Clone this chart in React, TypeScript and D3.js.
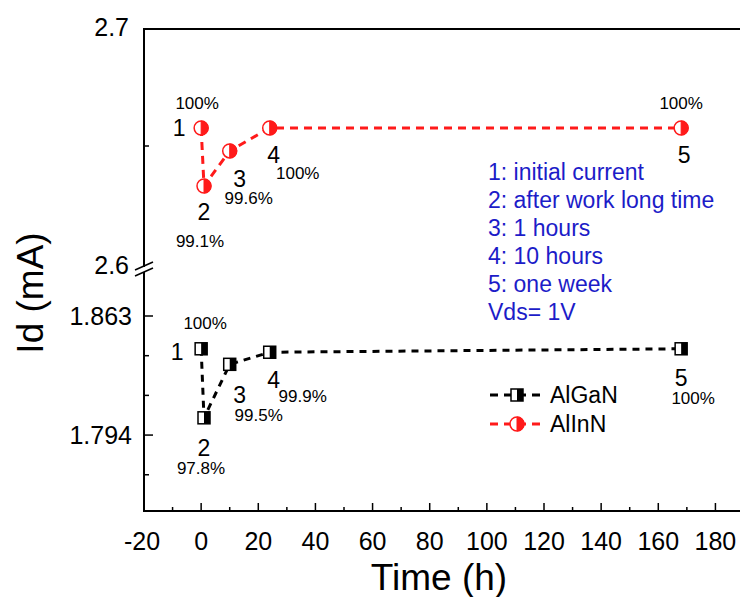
import React, { useEffect } from "react";
import * as d3 from "d3";

const times = [0, 1, 10, 24, 168];
const alganValues = [1.844, 1.804, 1.835, 1.842, 1.844];
const allnnValues = [2.6577, 2.6329, 2.6479, 2.6577, 2.6577];
const pointNumbers = ["1", "2", "3", "4", "5"];
const alganPct = ["100%", "97.8%", "99.5%", "99.9%", "100%"];
const allnnPct = ["100%", "99.1%", "99.6%", "100%", "100%"];
const xTicks = [-20, 0, 20, 40, 60, 80, 100, 120, 140, 160, 180];
const xMinor = [-10, 10, 30, 50, 70, 90, 110, 130, 150, 170];
const upperMajor = [2.7, 2.6];
const upperMinor = [2.65];
const lowerMajor = [1.863, 1.794];
const lowerMinor = [1.84, 1.817, 1.771];
const notes = [
  "1: initial current",
  "2: after work long time",
  "3: 1 hours",
  "4: 10 hours",
  "5: one week",
  "Vds= 1V",
];

// layout offsets for annotations (px relative to point)
const allnnNumOff = [[-22, 0], [0, 26], [10, 28], [4, 27], [3, 27]];
const allnnPctOff = [[-4, -24], [-4, 55], [19, 48], [28, 46], [0, -24]];
const alganNumOff = [[-24, 3], [0, 30], [10, 31], [4, 28], [0, 29]];
const alganPctOff = [[4, -25], [-3, 51], [29, 51], [33, 44], [12, 50]];

const FONT = "'Liberation Sans', Arial, sans-serif";

const x = d3.scaleLinear().domain([-20, 190]).range([144, 744]);
const yTop = d3.scaleLinear().domain([2.6, 2.7]).range([263, 29]);
const yBot = d3.scaleLinear().domain([1.75, 1.863]).range([511, 316]);

const RED = "#ff1a1a";
const BLUE = "#1c1cc8";

function Circle({ cx, cy, r = 7 }: { cx: number; cy: number; r?: number }) {
  const arc = `M${cx},${cy - r} A${r},${r} 0 0 1 ${cx},${cy + r} Z`;
  return (
    <g>
      <circle cx={cx} cy={cy} r={r} fill="white" stroke={RED} strokeWidth={1.5} />
      <path d={arc} fill={RED} stroke={RED} strokeWidth={1} />
    </g>
  );
}

function Square({ cx, cy, s = 12 }: { cx: number; cy: number; s?: number }) {
  return (
    <g>
      <rect x={cx - s / 2} y={cy - s / 2} width={s} height={s} fill="white" stroke="black" strokeWidth={1.5} />
      <rect x={cx} y={cy - s / 2} width={s / 2} height={s} fill="black" />
    </g>
  );
}

export default function App() {
  useEffect(() => {
    document.body.style.margin = "0";
  }, []);

  const lineTop = d3
    .line<number>()
    .x((_, i) => x(times[i]))
    .y((v) => yTop(v));
  const lineBot = d3
    .line<number>()
    .x((_, i) => x(times[i]))
    .y((v) => yBot(v));

  const axisX = 144;

  return (
    <svg width={740} height={597} style={{ position: "absolute", left: 0, top: 0, background: "white" }} fontFamily={FONT}>
      <rect x={0} y={0} width={740} height={597} fill="white" />
      {/* frame */}
      <line x1={axisX} x2={740} y1={29} y2={29} stroke="black" strokeWidth={2} />
      <line x1={axisX} x2={740} y1={511} y2={511} stroke="black" strokeWidth={2} />
      {/* left axis with break */}
      <line x1={axisX} x2={axisX} y1={28} y2={267} stroke="black" strokeWidth={2} />
      <line x1={axisX} x2={axisX} y1={272} y2={512} stroke="black" strokeWidth={2} />
      <line x1={135} x2={153} y1={270} y2={262} stroke="black" strokeWidth={1.5} />
      <line x1={135} x2={153} y1={276} y2={268} stroke="black" strokeWidth={1.5} />

      {/* y ticks */}
      {upperMinor.map((v) => (
        <line key={"um" + v} x1={axisX} x2={axisX + 5} y1={yTop(v)} y2={yTop(v)} stroke="black" strokeWidth={1.5} />
      ))}
      {lowerMajor.map((v) => (
        <line key={"lM" + v} x1={axisX} x2={axisX + 9} y1={yBot(v)} y2={yBot(v)} stroke="black" strokeWidth={1.5} />
      ))}
      {lowerMinor.map((v) => (
        <line key={"lm" + v} x1={axisX} x2={axisX + 5} y1={yBot(v)} y2={yBot(v)} stroke="black" strokeWidth={1.5} />
      ))}
      {upperMajor.map((v) => (
        <text key={"ut" + v} x={129} y={yTop(v) + (v === 2.6 ? 2 : -2)} fontSize={25} textAnchor="end" dominantBaseline="central">
          {v.toFixed(1)}
        </text>
      ))}
      {lowerMajor.map((v) => (
        <text key={"lt" + v} x={132} y={yBot(v)} fontSize={25} textAnchor="end" dominantBaseline="central">
          {v.toFixed(3)}
        </text>
      ))}

      {/* x ticks */}
      {xTicks.map((t) => (
        <g key={"xt" + t}>
          <line x1={x(t)} x2={x(t)} y1={511} y2={503} stroke="black" strokeWidth={1.5} />
          <text x={x(t) - (t < 0 ? 2 : 0)} y={541} fontSize={25} textAnchor="middle" dominantBaseline="central">
            {t}
          </text>
        </g>
      ))}
      {xMinor.map((t) => (
        <line key={"xm" + t} x1={x(t)} x2={x(t)} y1={511} y2={507} stroke="black" strokeWidth={1.5} />
      ))}

      {/* axis titles */}
      <text x={439} y={577} fontSize={37} textAnchor="middle" dominantBaseline="central">
        Time (h)
      </text>
      <text
        transform="translate(30,293) rotate(-90)"
        fontSize={37}
        textAnchor="middle"
        dominantBaseline="central"
      >
        Id (mA)
      </text>

      {/* series lines */}
      <path d={lineTop(allnnValues) || ""} fill="none" stroke={RED} strokeWidth={3} strokeDasharray="8,6" />
      <path d={lineBot(alganValues) || ""} fill="none" stroke="black" strokeWidth={3} strokeDasharray="7,6" />

      {/* markers */}
      {allnnValues.map((v, i) => (
        <Circle key={"c" + i} cx={x(times[i])} cy={yTop(v)} />
      ))}
      {alganValues.map((v, i) => (
        <Square key={"s" + i} cx={x(times[i])} cy={yBot(v)} />
      ))}

      {/* annotations */}
      {allnnValues.map((v, i) => (
        <g key={"ra" + i}>
          <text x={x(times[i]) + allnnNumOff[i][0]} y={yTop(v) + allnnNumOff[i][1]} fontSize={23} textAnchor="middle" dominantBaseline="central">
            {pointNumbers[i]}
          </text>
          <text x={x(times[i]) + allnnPctOff[i][0]} y={yTop(v) + allnnPctOff[i][1]} fontSize={17} textAnchor="middle" dominantBaseline="central">
            {allnnPct[i]}
          </text>
        </g>
      ))}
      {alganValues.map((v, i) => (
        <g key={"ba" + i}>
          <text x={x(times[i]) + alganNumOff[i][0]} y={yBot(v) + alganNumOff[i][1]} fontSize={23} textAnchor="middle" dominantBaseline="central">
            {pointNumbers[i]}
          </text>
          <text x={x(times[i]) + alganPctOff[i][0]} y={yBot(v) + alganPctOff[i][1]} fontSize={17} textAnchor="middle" dominantBaseline="central">
            {alganPct[i]}
          </text>
        </g>
      ))}

      {/* notes */}
      {notes.map((n, i) => (
        <text key={"n" + i} x={488} y={172 + i * 28} fontSize={23} fill={BLUE} dominantBaseline="central">
          {n}
        </text>
      ))}

      {/* legend */}
      <line x1={490} x2={543} y1={395} y2={395} stroke="black" strokeWidth={3} strokeDasharray="8,6" />
      <Square cx={517} cy={395} />
      <text x={550} y={395} fontSize={23} dominantBaseline="central">AlGaN</text>
      <line x1={490} x2={543} y1={424} y2={424} stroke={RED} strokeWidth={3} strokeDasharray="8,6" />
      <Circle cx={517} cy={424} />
      <text x={550} y={424} fontSize={23} dominantBaseline="central">AlInN</text>
    </svg>
  );
}
